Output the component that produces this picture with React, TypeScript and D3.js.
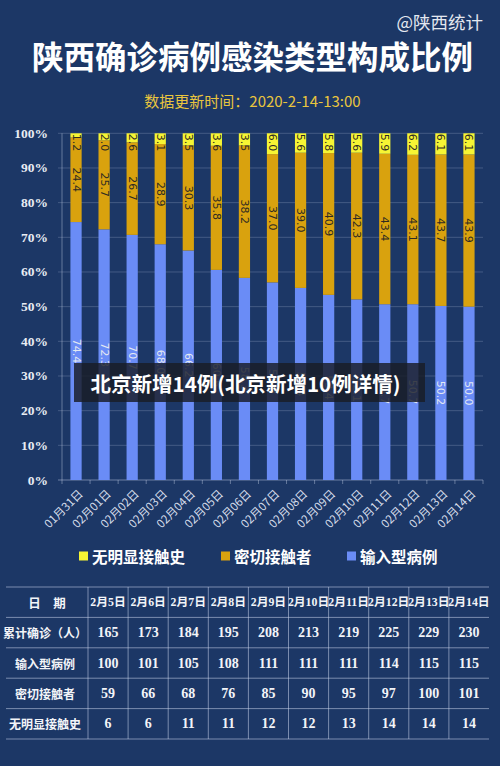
import React from 'react';
import * as d3 from 'd3';

const dates = ['01月31日','02月01日','02月02日','02月03日','02月04日','02月05日','02月06日','02月07日','02月08日','02月09日','02月10日','02月11日','02月12日','02月13日','02月14日'];
const noContact = [1.2,2.0,2.6,3.1,3.5,3.6,3.5,6.0,5.6,5.8,5.6,5.9,6.2,6.1,6.1];
const closeContact = [24.4,25.7,26.7,28.9,30.3,35.8,38.2,37.0,39.0,40.9,42.3,43.4,43.1,43.7,43.9];
const imported = [74.4,72.3,70.7,68.0,66.2,60.6,58.3,57.0,55.4,53.4,52.1,50.7,50.7,50.2,50.0];
const yTicks = [0,10,20,30,40,50,60,70,80,90,100];

const seriesNames = ['无明显接触史','密切接触者','输入型病例'];

const tableDates = ['2月5日','2月6日','2月7日','2月8日','2月9日','2月10日','2月11日','2月12日','2月13日','2月14日'];
const rowLabels = ['累计确诊（人）','输入型病例','密切接触者','无明显接触史'];
const cumulative = [165,173,184,195,208,213,219,225,229,230];
const importedCnt = [100,101,105,108,111,111,111,114,115,115];
const closeCnt = [59,66,68,76,85,90,95,97,100,101];
const noContactCnt = [6,6,11,11,12,12,13,14,14,14];

const BG = '#1c3766';
const YELLOW = '#f6f534';
const ORANGE = '#d9a20e';
const BLUE = '#6a8cf6';
const GRID = 'rgba(210,220,240,0.22)';
const CJK = '"Noto Sans CJK SC", "Noto Sans", sans-serif';
const SERIF = '"Liberation Serif", "Noto Sans CJK SC", serif';

export default function App() {
  const W = 500, H = 766;
  const x = d3.scaleBand<string>().domain(dates).range([62, 483]).paddingInner(0.6).paddingOuter(0.3);
  const y = d3.scaleLinear().domain([0, 100]).range([480, 133.3]).clamp(true);
  const bw = x.bandwidth();

  const rows = dates.map((d, i) => ({ d, imp: imported[i], close: closeContact[i], none: noContact[i] }));

  const colX = d3.scaleBand<string>().domain(tableDates).range([88, 489]);
  const rowKeys = ['h', ...rowLabels];
  const rowY = d3.scaleBand<string>().domain(rowKeys).range([587, 739]);
  const tableRows = [cumulative, importedCnt, closeCnt, noContactCnt];

  const legendItems = [
    { name: seriesNames[0], color: YELLOW, x: 79 },
    { name: seriesNames[1], color: ORANGE, x: 221 },
    { name: seriesNames[2], color: BLUE, x: 347 },
  ];

  return (
    <svg width={W} height={H} style={{ position: 'absolute', left: 0, top: 0 }}>
      <rect x={0} y={0} width={W} height={H} fill={BG} />
      {/* header */}
      <text x={483} y={21} textAnchor="end" dominantBaseline="central" fill="#e4e8f0" fontSize={17.5} fontFamily={CJK}>@陕西统计</text>
      <text x={252.5} y={55} textAnchor="middle" dominantBaseline="central" fill="#ffffff" fontSize={31.5} fontWeight="bold" fontFamily={CJK}>陕西确诊病例感染类型构成比例</text>
      <text x={252.5} y={100} textAnchor="middle" dominantBaseline="central" fill="#e9c53e" fontSize={15} fontFamily={CJK}>数据更新时间：2020-2-14-13:00</text>

      {/* grid */}
      {yTicks.map(t => (
        <g key={t}>
          <line x1={58} x2={483} y1={y(t)} y2={y(t)} stroke={t === 0 ? 'rgba(210,220,240,0.45)' : GRID} strokeWidth={1} />
          <text x={48} y={y(t)} textAnchor="end" dominantBaseline="central" fill="#e8ecf3" fontSize={13.5} fontWeight="bold" fontFamily={SERIF}>{t}%</text>
        </g>
      ))}
      <line x1={62} x2={62} y1={133.3} y2={480} stroke="rgba(210,220,240,0.4)" />
      {dates.map((d, i) => {
        const bx = (x(d) as number) - (x.step() * x.paddingInner()) / 2;
        return <line key={'t' + i} x1={bx} x2={bx} y1={480} y2={484} stroke="rgba(210,220,240,0.4)" />;
      })}
      <line x1={483} x2={483} y1={480} y2={484} stroke="rgba(210,220,240,0.4)" />

      {/* bars */}
      {rows.map(r => {
        const x0 = x(r.d) as number;
        const cx = x0 + bw / 2;
        const yImpTop = y(r.imp);
        const yCloseTop = y(r.imp + r.close);
        const yNoneTop = y(r.imp + r.close + r.none);
        return (
          <g key={r.d}>
            <rect x={x0} width={bw} y={yImpTop} height={y(0) - yImpTop} fill={BLUE} />
            <rect x={x0} width={bw} y={yCloseTop} height={yImpTop - yCloseTop} fill={ORANGE} />
            <rect x={x0} width={bw} y={yNoneTop} height={yCloseTop - yNoneTop} fill={YELLOW} />
            <text transform={`translate(${cx},${(y(0) + yImpTop) / 2}) rotate(90)`} textAnchor="middle" dominantBaseline="central" fill="#e3e8f2" fontSize={11} fontFamily='"DejaVu Sans", sans-serif'>{r.imp.toFixed(1)}</text>
            <text transform={`translate(${cx},${(yImpTop + yCloseTop) / 2}) rotate(90)`} textAnchor="middle" dominantBaseline="central" fill="#2e2a22" fontSize={11} fontFamily='"DejaVu Sans", sans-serif'>{r.close.toFixed(1)}</text>
            <text transform={`translate(${cx},${yNoneTop + 0.5}) rotate(90)`} textAnchor="start" dominantBaseline="central" fill="#2e2a22" fontSize={11} fontFamily='"DejaVu Sans", sans-serif'>{r.none.toFixed(1)}</text>
          </g>
        );
      })}

      {/* x labels */}
      {dates.map(d => {
        const cx = (x(d) as number) + bw / 2;
        return (
          <text key={'xl' + d} transform={`translate(${cx + 4},${491}) rotate(-45)`} textAnchor="end" dominantBaseline="central" fill="#d5dcea" fontSize={11.5} fontFamily={CJK}>{d}</text>
        );
      })}

      {/* legend */}
      {legendItems.map(l => (
        <g key={l.name}>
          <rect x={l.x} y={551.5} width={9} height={9} fill={l.color} />
          <text x={l.x + 13} y={556} dominantBaseline="central" fill="#ffffff" fontSize={15.5} fontWeight="bold" fontFamily={CJK}>{l.name}</text>
        </g>
      ))}

      {/* banner overlay */}
      <rect x={74} y={363} width={351} height={39} fill="rgba(24,28,38,0.82)" />
      <text x={245.5} y={382.5} textAnchor="middle" dominantBaseline="central" fill="#ffffff" fontSize={20.5} fontWeight="bold" fontFamily={CJK}>北京新增14例(北京新增10例详情)</text>

      {/* table */}
      {[...rowKeys.map(k => rowY(k) as number), 739].map((yy, i) => (
        <line key={'hl' + i} x1={6} x2={489} y1={yy} y2={yy} stroke="rgba(200,212,235,0.55)" />
      ))}
      {tableDates.map((d, i) => {
        const lx = colX(d) as number;
        return <line key={'vl' + i} x1={lx} x2={lx} y1={587} y2={739} stroke="rgba(200,212,235,0.55)" />;
      })}
      <text x={47} y={(rowY('h') as number) + rowY.bandwidth() / 2} textAnchor="middle" dominantBaseline="central" fill="#f2f4f8" fontSize={12.5} fontWeight="bold" fontFamily={CJK}>日　期</text>
      {tableDates.map(d => (
        <text key={'hd' + d} x={(colX(d) as number) + colX.bandwidth() / 2} y={(rowY('h') as number) + rowY.bandwidth() / 2} textAnchor="middle" dominantBaseline="central" fill="#f2f4f8" fontSize={11.8} fontWeight="bold" fontFamily={SERIF}>{d}</text>
      ))}
      {rowLabels.map((lab, ri) => {
        const cy = (rowY(lab) as number) + rowY.bandwidth() / 2;
        return (
          <g key={lab}>
            <text x={45} y={cy} textAnchor="middle" dominantBaseline="central" fill="#f2f4f8" fontSize={12} fontWeight="bold" fontFamily={CJK}>{lab}</text>
            {tableRows[ri].map((v, ci) => (
              <text key={ci} x={(colX(tableDates[ci]) as number) + colX.bandwidth() / 2} y={cy} textAnchor="middle" dominantBaseline="central" fill="#f2f4f8" fontSize={14} fontWeight="bold" fontFamily={SERIF}>{v}</text>
            ))}
          </g>
        );
      })}
    </svg>
  );
}
